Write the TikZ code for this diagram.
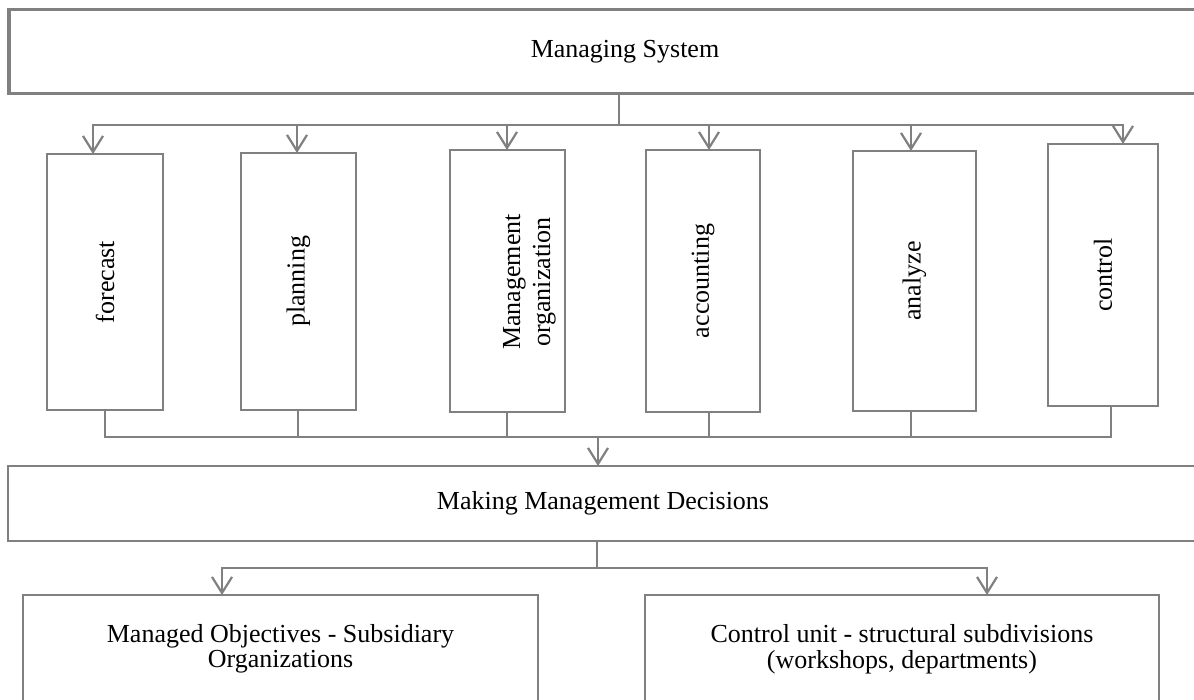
\documentclass[tikz,border=0pt]{standalone}
\usepackage{fontspec}
\setmainfont{Liberation Serif}
\usepackage{tikz}
\usetikzlibrary{arrows.meta,positioning,calc}
\definecolor{edgegray}{RGB}{128,128,128}
\newcommand{\boxfont}{\fontsize{26}{30}\selectfont}
\newcommand{\unitfont}{\fontsize{26}{25.5}\selectfont}

\begin{document}
\begin{tikzpicture}[x=1pt,y=-1pt,
  every node/.style={font=\boxfont,inner sep=0pt,outer sep=0pt},
  sysbox/.style={draw=edgegray,line width=3.3pt},
  decbox/.style={draw=edgegray,line width=2.3pt},
  funcbox/.style={draw=edgegray,line width=2pt},
  unitbox/.style={draw=edgegray,line width=2.2pt},
  unittext/.style={font=\unitfont,align=center},
  line/.style={draw=edgegray,line width=2.2pt},
  arr/.style={line,-{Straight Barb[length=16pt,width=20pt,line width=2.2pt]}}]
\useasboundingbox (0,0) rectangle (1194,699);
\clip (0,0) rectangle (1194,699);

% top box
\node (sys) at (625,51.5) [sysbox,minimum width=1232pt,minimum height=84pt] {Managing System};

% functions
\node (b1) at (105,282) [funcbox,minimum width=116pt,minimum height=256pt] {\rotatebox{90}{forecast}};
\node (b2) at (298.5,281.5) [funcbox,minimum width=115pt,minimum height=257pt] {\rotatebox{90}{planning}};
\node (b3) at (507.5,281) [funcbox,minimum width=115pt,minimum height=262pt] {};
\node (b3text) at (529,282) {\rotatebox{90}{\begin{tabular}{@{}c@{}}Management\\organization\end{tabular}}};
\node (b4) at (703,281) [funcbox,minimum width=114pt,minimum height=262pt] {\rotatebox{90}{accounting}};
\node (b5) at (914.5,281) [funcbox,minimum width=123pt,minimum height=260pt] {\rotatebox{90}{analyze}};
\node (b6) at (1103,275) [funcbox,minimum width=110pt,minimum height=262pt] {\rotatebox{90}{control}};

% decisions
\node (dec) at (603,503.5) [decbox,minimum width=1190pt,minimum height=75pt] {Making Management Decisions};

% managed units
\node (obj) at (280.5,670) [unitbox,minimum width=515pt,minimum height=150pt] {};
\node (objtext) at (280.5,649) [unittext] {Managed Objectives - Subsidiary\\Organizations};
\node (unit) at (902,670) [unitbox,minimum width=514pt,minimum height=150pt] {};
\node (unittext) at (902,649) [unittext] {Control unit - structural subdivisions\\(workshops, departments)};

% connectors
\coordinate (hub) at (619,125);
\draw[line] (sys.south -| hub) -- (hub);
\foreach \b/\x in {b1/93,b2/297,b3/507,b4/709,b5/911,b6/1123}
  \draw[arr] (hub) -| (\x,0 |- \b.north);

\coordinate (hubb) at (598,437);
\foreach \b/\x in {b1/105,b2/298,b3/507,b4/709,b5/911,b6/1111}
  \draw[line] (\x,0 |- \b.south) |- (hubb);
\draw[arr] (hubb) -- (hubb |- dec.north);

\coordinate (hubc) at (597,568);
\draw[line] (dec.south -| hubc) -- (hubc);
\draw[arr] (hubc) -| (222,0 |- obj.north);
\draw[arr] (hubc) -| (987,0 |- unit.north);
\end{tikzpicture}
\end{document}
